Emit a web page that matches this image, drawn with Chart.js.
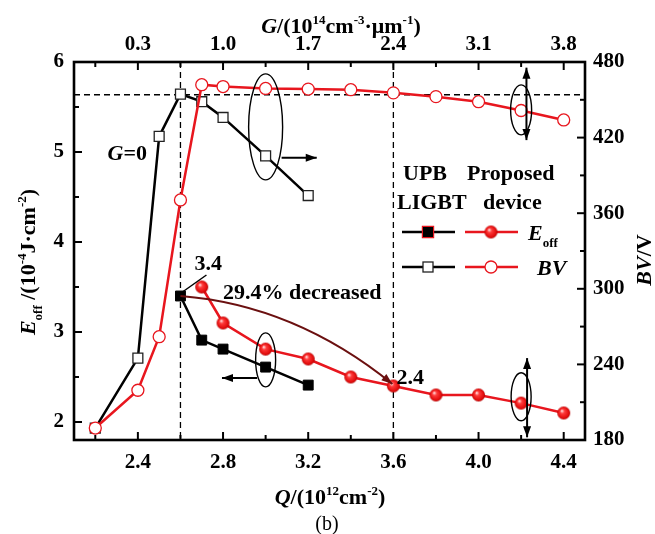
<!DOCTYPE html>
<html>
<head>
<meta charset="utf-8">
<script src="https://cdn.jsdelivr.net/npm/chart.js@4"></script>
<style>
  html, body { margin: 0; padding: 0; background: #fff; }
  #wrap { width: 655px; height: 534px; position: relative; }
</style>
</head>
<body>
<div id="wrap"><canvas id="chart"></canvas></div>
<script>
// tick positions and labels
const qTicks = [2.2, 2.4, 2.6, 2.8, 3.0, 3.2, 3.4, 3.6, 3.8, 4.0, 4.2, 4.4];
const qMajor = [2.4, 2.8, 3.2, 3.6, 4.0, 4.4];
const gLabels = ['0.3', '1.0', '1.7', '2.4', '3.1', '3.8'];
const eTicks = [2, 2.5, 3, 3.5, 4, 4.5, 5, 5.5, 6];
const eMajor = [2, 3, 4, 5, 6];
const bvTicks = [180, 210, 240, 270, 300, 330, 360, 390, 420, 450, 480];
const bvMajor = [180, 240, 300, 360, 420, 480];

// UPB LIGBT
const upbEQ = [2.6, 2.7, 2.8, 3.0, 3.2];
const upbE = [3.40, 2.91, 2.81, 2.61, 2.41];
const upbBVQ = [2.2, 2.4, 2.5, 2.6, 2.7, 2.8, 3.0, 3.2];
const upbBV = [189.5, 245, 421, 454.5, 448.5, 436, 405.5, 374];

// proposed device
const propEQ = [2.7, 2.8, 3.0, 3.2, 3.4, 3.6, 3.8, 4.0, 4.2, 4.4];
const propE = [3.50, 3.10, 2.81, 2.70, 2.50, 2.40, 2.30, 2.30, 2.21, 2.10];
const propBVQ = [2.2, 2.4, 2.5, 2.6, 2.7, 2.8, 3.0, 3.2, 3.4, 3.6, 3.8, 4.0, 4.2, 4.4];
const propBV = [189.5, 219.5, 262, 370.5, 462, 460.5, 459, 458.5, 458, 455.5, 452.5, 448.5, 441.5, 434];

// reference lines
const refQ = [2.6, 3.6];
const refBV = 454;

const serif = '"Liberation Serif", "Times New Roman", serif';
const red = '#e8161e';

function pairs(xs, ys) {
    return xs.map((x, i) => ({ x: x, y: ys[i] }));
}

function makeSphere(r) {
    const c = document.createElement('canvas');
    const d = Math.ceil(r * 2) + 2;
    c.width = d; c.height = d;
    const g = c.getContext('2d');
    const m = d / 2;
    const grad = g.createRadialGradient(m - r * 0.3, m - r * 0.35, r * 0.05, m, m, r);
    grad.addColorStop(0, '#ffe6e6');
    grad.addColorStop(0.3, '#ff3b3b');
    grad.addColorStop(0.85, '#e00a0a');
    grad.addColorStop(1, '#a80000');
    g.fillStyle = grad;
    g.beginPath(); g.arc(m, m, r, 0, Math.PI * 2); g.fill();
    return c;
}
const sphere = makeSphere(6.5);

function near(list, v) {
    return list.findIndex(m => Math.abs(m - v) < 1e-6);
}

// rich text: parts = [{t, i, sup, sub, n}]
function rich(ctx, parts, x, y, size, align) {
    let w = 0;
    const segs = parts.map(p => {
        const small = p.sup || p.sub;
        const fs = small ? Math.round(size * 0.6) : size;
        const font = (p.i ? 'italic ' : '') + (p.n ? '' : 'bold ') + fs + 'px ' + serif;
        ctx.font = font;
        const sw = ctx.measureText(p.t).width;
        w += sw;
        return { t: p.t, font: font, w: sw, dy: p.sup ? -size * 0.4 : (p.sub ? size * 0.3 : 0) };
    });
    let cx = align === 'center' ? x - w / 2 : x;
    ctx.textBaseline = 'alphabetic';
    ctx.textAlign = 'left';
    segs.forEach(s => {
        ctx.font = s.font;
        ctx.fillText(s.t, cx, y + s.dy);
        cx += s.w;
    });
}

function arrowHead(ctx, x, y, ang, len, wid) {
    ctx.beginPath();
    ctx.moveTo(x, y);
    ctx.lineTo(x - len * Math.cos(ang) + wid * Math.sin(ang), y - len * Math.sin(ang) - wid * Math.cos(ang));
    ctx.lineTo(x - len * Math.cos(ang) - wid * Math.sin(ang), y - len * Math.sin(ang) + wid * Math.cos(ang));
    ctx.closePath();
    ctx.fill();
}

function arrow(ctx, x1, y1, x2, y2, both) {
    ctx.beginPath(); ctx.moveTo(x1, y1); ctx.lineTo(x2, y2); ctx.stroke();
    const a = Math.atan2(y2 - y1, x2 - x1);
    arrowHead(ctx, x2, y2, a, 11, 4);
    if (both) arrowHead(ctx, x1, y1, a + Math.PI, 11, 4);
}

function ellipse(ctx, cx, cy, rx, ry) {
    ctx.beginPath();
    ctx.ellipse(cx, cy, rx, ry, 0, 0, Math.PI * 2);
    ctx.stroke();
}

const refLines = {
    id: 'refLines',
    beforeDatasetsDraw(chart) {
        const { ctx, chartArea: a, scales } = chart;
        ctx.save();
        ctx.strokeStyle = '#000';
        ctx.lineWidth = 1.3;
        ctx.setLineDash([6, 4]);
        refQ.forEach(q => {
            const x = scales.x.getPixelForValue(q);
            ctx.beginPath(); ctx.moveTo(x, a.top); ctx.lineTo(x, a.bottom); ctx.stroke();
        });
        const y = scales.y2.getPixelForValue(refBV);
        ctx.beginPath(); ctx.moveTo(a.left, y); ctx.lineTo(a.right, y); ctx.stroke();
        ctx.restore();
    }
};

const overlay = {
    id: 'overlay',
    afterDraw(chart) {
        const { ctx, chartArea: a, scales } = chart;
        const px = q => scales.x.getPixelForValue(q);
        const pe = e => scales.y.getPixelForValue(e);
        const pb = b => scales.y2.getPixelForValue(b);
        ctx.save();
        ctx.fillStyle = '#000';
        ctx.strokeStyle = '#000';

        // frame
        ctx.lineWidth = 2.6;
        ctx.strokeRect(a.left, a.top, a.right - a.left, a.bottom - a.top);

        // inward ticks
        ctx.lineWidth = 2;
        const drawTicks = (scale, side) => {
            scale.ticks.forEach(t => {
                const p = scale.getPixelForValue(t.value);
                const len = t.label !== '' ? 8 : 5;
                ctx.beginPath();
                if (side === 'bottom') { ctx.moveTo(p, a.bottom); ctx.lineTo(p, a.bottom - len); }
                if (side === 'top') { ctx.moveTo(p, a.top); ctx.lineTo(p, a.top + len); }
                if (side === 'left') { ctx.moveTo(a.left, p); ctx.lineTo(a.left + len, p); }
                if (side === 'right') { ctx.moveTo(a.right, p); ctx.lineTo(a.right - len, p); }
                ctx.stroke();
            });
        };
        drawTicks(scales.x, 'bottom');
        drawTicks(scales.x2, 'top');
        drawTicks(scales.y, 'left');
        drawTicks(scales.y2, 'right');

        // ellipses and arrows
        ctx.lineWidth = 1.4;
        ellipse(ctx, px(3.0), pb(428.5), 17, 53);
        ellipse(ctx, px(3.0), pe(2.69), 10, 27);
        ellipse(ctx, px(4.2), pb(442), 10.5, 25);
        ellipse(ctx, px(4.2), pe(2.28), 10, 24);
        ctx.lineWidth = 2;
        arrow(ctx, px(3.075), pb(404), px(3.24), pb(404), false);
        arrow(ctx, px(2.96), pe(2.49), px(2.795), pe(2.49), false);
        arrow(ctx, px(4.225), pb(418), px(4.225), pb(475.5), true);
        arrow(ctx, px(4.228), pe(1.83), px(4.228), pe(2.71), true);

        // curved arrow 3.4 -> 2.4
        const x0 = px(2.6), y0 = pe(3.4), x2 = px(3.6) - 1, y2 = pe(2.4) - 2;
        const cx = px(3.1376), cy = pe(3.3);
        ctx.strokeStyle = '#6b1010';
        ctx.fillStyle = '#6b1010';
        ctx.lineWidth = 2;
        ctx.beginPath(); ctx.moveTo(x0, y0); ctx.quadraticCurveTo(cx, cy, x2, y2); ctx.stroke();
        arrowHead(ctx, x2, y2, Math.atan2(y2 - cy, x2 - cx), 11, 4);

        // leader for 3.4
        ctx.strokeStyle = '#000';
        ctx.fillStyle = '#000';
        ctx.lineWidth = 1.5;
        ctx.beginPath(); ctx.moveTo(x0 + 26, y0 - 21); ctx.lineTo(x0 + 2, y0 - 4); ctx.stroke();

        // annotation texts
        rich(ctx, [{ t: '3.4' }], x0 + 14, y0 - 26, 22, 'left');
        rich(ctx, [{ t: '29.4% decreased' }], px(2.8), pe(3.44) + 7, 22, 'left');
        rich(ctx, [{ t: '2.4' }], px(3.6) + 3, pe(2.4) - 2, 22, 'left');
        rich(ctx, [{ t: 'G', i: true }, { t: '=0' }], px(2.35), pe(5.0) + 8, 22, 'center');

        // legend
        rich(ctx, [{ t: 'UPB' }], 403, 180, 22, 'left');
        rich(ctx, [{ t: 'Proposed' }], 467, 180, 22, 'left');
        rich(ctx, [{ t: 'LIGBT' }], 397, 209, 22, 'left');
        rich(ctx, [{ t: 'device' }], 483, 209, 22, 'left');
        const rows = [232, 267];
        rows.forEach((ry, k) => {
            ctx.lineWidth = 2.5;
            ctx.strokeStyle = '#000';
            ctx.beginPath(); ctx.moveTo(402, ry); ctx.lineTo(455, ry); ctx.stroke();
            ctx.strokeStyle = red;
            ctx.beginPath(); ctx.moveTo(465, ry); ctx.lineTo(518, ry); ctx.stroke();
            if (k === 0) {
                Chart.helpers.drawPoint(ctx, { pointStyle: 'rect', radius: 7, borderWidth: 1 }, 428, ry);
                ctx.fillStyle = '#000'; ctx.fillRect(423, ry - 5, 10, 10);
                ctx.drawImage(sphere, 491 - sphere.width / 2, ry - sphere.height / 2);
            } else {
                ctx.fillStyle = '#fff'; ctx.strokeStyle = '#222'; ctx.lineWidth = 1.3;
                ctx.fillRect(423, ry - 5, 10, 10); ctx.strokeRect(423, ry - 5, 10, 10);
                ctx.strokeStyle = red;
                ctx.beginPath(); ctx.arc(491, ry, 6, 0, Math.PI * 2); ctx.fill(); ctx.stroke();
            }
        });
        ctx.fillStyle = '#000';
        rich(ctx, [{ t: 'E', i: true }, { t: 'off', sub: true }], 528, 240, 22, 'left');
        rich(ctx, [{ t: 'BV', i: true }], 537, 275, 22, 'left');

        // axis titles
        rich(ctx, [{ t: 'Q', i: true }, { t: '/(10' }, { t: '12', sup: true }, { t: 'cm' }, { t: '-2', sup: true }, { t: ')' }],
            330, 504, 22, 'center');
        rich(ctx, [{ t: 'G', i: true }, { t: '/(10' }, { t: '14', sup: true }, { t: 'cm' }, { t: '-3', sup: true },
            { t: '\u00b7\u03bcm' }, { t: '-1', sup: true }, { t: ')' }], 341, 33, 22, 'center');
        rich(ctx, [{ t: '(b)', n: true }], 327, 530, 20, 'center');

        ctx.save();
        ctx.translate(28, 262);
        ctx.rotate(-Math.PI / 2);
        rich(ctx, [{ t: 'E', i: true }, { t: 'off', sub: true }, { t: ' /(10' }, { t: '-4', sup: true },
            { t: 'J\u00b7cm' }, { t: '-2', sup: true }, { t: ')' }], 0, 7, 22, 'center');
        ctx.restore();

        ctx.save();
        ctx.translate(644, 260);
        ctx.rotate(-Math.PI / 2);
        rich(ctx, [{ t: 'BV', i: true }, { t: '/V' }], 0, 7, 22, 'center');
        ctx.restore();

        ctx.restore();
    }
};

const tickFont = { family: serif, size: 21, weight: 'bold' };
const noGrid = { display: false, drawTicks: false };

const ctx = document.getElementById('chart').getContext('2d');
new Chart(ctx, {
    type: 'line',
    data: {
        datasets: [
            {
                label: 'Proposed Eoff', data: pairs(propEQ, propE), yAxisID: 'y', xAxisID: 'x',
                borderColor: red, borderWidth: 2.5, pointStyle: sphere, pointRadius: 6.5, tension: 0
            },
            {
                label: 'Proposed BV', data: pairs(propBVQ, propBV), yAxisID: 'y2', xAxisID: 'x',
                borderColor: red, borderWidth: 2.5, pointStyle: 'circle', pointRadius: 6,
                pointBackgroundColor: '#fff', pointBorderColor: red, pointBorderWidth: 1.3, tension: 0
            },
            {
                label: 'UPB Eoff', data: pairs(upbEQ, upbE), yAxisID: 'y', xAxisID: 'x',
                borderColor: '#000', borderWidth: 2.5, pointStyle: 'rect', pointRadius: 7,
                pointBackgroundColor: '#000', pointBorderColor: '#000', pointBorderWidth: 1, tension: 0
            },
            {
                label: 'UPB BV', data: pairs(upbBVQ, upbBV), yAxisID: 'y2', xAxisID: 'x',
                borderColor: '#000', borderWidth: 2.5, pointStyle: 'rect', pointRadius: 7,
                pointBackgroundColor: '#fff', pointBorderColor: '#222', pointBorderWidth: 1.3, tension: 0
            }
        ]
    },
    options: {
        responsive: true,
        maintainAspectRatio: false,
        animation: false,
        layout: { padding: 0 },
        plugins: { legend: { display: false }, tooltip: { enabled: false } },
        scales: {
            x: {
                type: 'linear', position: 'bottom', min: 2.1, max: 4.5,
                afterBuildTicks: s => { s.ticks = qTicks.map(v => ({ value: v })); },
                afterFit: s => { s.height = 94; },
                ticks: {
                    autoSkip: false, maxRotation: 0, padding: 10, font: tickFont, color: '#000',
                    callback: v => { const i = near(qMajor, v); return i < 0 ? '' : qMajor[i].toFixed(1); }
                },
                grid: noGrid, border: { display: false }
            },
            x2: {
                type: 'linear', position: 'top', min: 2.1, max: 4.5,
                afterBuildTicks: s => { s.ticks = qTicks.map(v => ({ value: v })); },
                afterFit: s => { s.height = 62; },
                ticks: {
                    autoSkip: false, maxRotation: 0, padding: 5, font: tickFont, color: '#000',
                    callback: v => { const i = near(qMajor, v); return i < 0 ? '' : gLabels[i]; }
                },
                grid: noGrid, border: { display: false }
            },
            y: {
                type: 'linear', position: 'left', min: 1.8, max: 6,
                afterBuildTicks: s => { s.ticks = eTicks.map(v => ({ value: v })); },
                afterFit: s => { s.width = 74; },
                ticks: {
                    autoSkip: false, padding: 10, font: tickFont, color: '#000',
                    callback: v => { const i = near(eMajor, v); return i < 0 ? '' : String(eMajor[i]); }
                },
                grid: noGrid, border: { display: false }
            },
            y2: {
                type: 'linear', position: 'right', min: 180, max: 480,
                afterBuildTicks: s => { s.ticks = bvTicks.map(v => ({ value: v })); },
                afterFit: s => { s.width = 70; },
                ticks: {
                    autoSkip: false, padding: 8, font: tickFont, color: '#000',
                    callback: v => { const i = near(bvMajor, v); return i < 0 ? '' : String(bvMajor[i]); }
                },
                grid: noGrid, border: { display: false }
            }
        }
    },
    plugins: [refLines, overlay]
});
</script>
</body>
</html>
